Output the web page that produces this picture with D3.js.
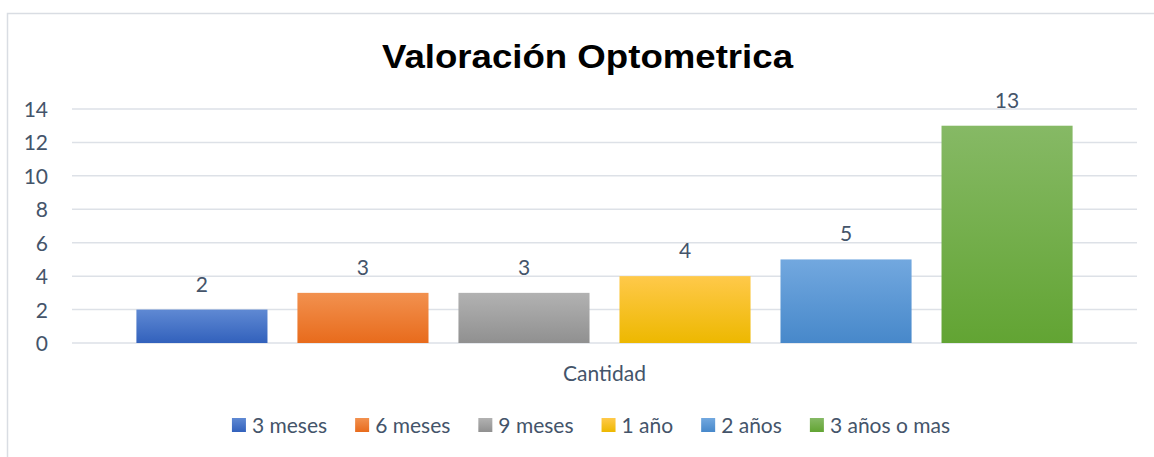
<!DOCTYPE html>
<html>
<head>
    <meta charset="utf-8">
    <title>Valoración Optometrica</title>
    <script src="https://d3js.org/d3.v7.min.js"></script>
    <style>
        body { margin: 0; background: #fff; }
        text { font-family: Lato, "Open Sans", sans-serif; fill: #44546A; }
    </style>
</head>
<body>
    <svg width="1154" height="457"></svg>
    <script>
        // Données
        const categories = ["3 meses", "6 meses", "9 meses", "1 año", "2 años", "3 años o mas"];
        const values = [2, 3, 3, 4, 5, 13];
        const yTicks = [0, 2, 4, 6, 8, 10, 12, 14];
        const colorsTop = ["#5F89D3", "#F2914F", "#B2B2B2", "#FFC94A", "#72A8DF", "#86B965"];
        const colorsBottom = ["#3261BC", "#E86B1C", "#909090", "#EDB800", "#4788CA", "#62A433"];

        const svg = d3.select("svg");
        const plotLeft = 72, plotRight = 1137, plotTop = 109, plotBottom = 343;

        // bordure du graphique
        svg.append("rect")
            .attr("x", 7.5).attr("y", 13.5)
            .attr("width", 1200).attr("height", 500)
            .attr("fill", "none")
            .attr("stroke", "#D9DDE3")
            .attr("stroke-width", 1.5);

        // dégradés
        const defs = svg.append("defs");
        categories.forEach((c, i) => {
            const g = defs.append("linearGradient")
                .attr("id", "grad" + i)
                .attr("x1", 0).attr("y1", 0).attr("x2", 0).attr("y2", 1);
            g.append("stop").attr("offset", "0%").attr("stop-color", colorsTop[i]);
            g.append("stop").attr("offset", "100%").attr("stop-color", colorsBottom[i]);
        });

        const x = d3.scaleBand()
            .domain(categories)
            .range([plotLeft, plotRight])
            .paddingInner(0.186)
            .paddingOuter(0.4);

        const y = d3.scaleLinear()
            .domain([0, 14])
            .range([plotBottom, plotTop]);

        // Titre
        svg.append("text")
            .attr("x", 587.5)
            .attr("y", 68)
            .attr("text-anchor", "middle")
            .attr("textLength", 411)
            .attr("lengthAdjust", "spacingAndGlyphs")
            .style("font-family", "'Liberation Sans', Arial, sans-serif")
            .style("font-weight", "bold")
            .style("font-size", "33px")
            .style("fill", "#000")
            .text("Valoración Optometrica");

        // Grille
        svg.append("g")
            .selectAll("line")
            .data(yTicks)
            .enter()
            .append("line")
            .attr("x1", plotLeft).attr("x2", plotRight)
            .attr("y1", d => y(d)).attr("y2", d => y(d))
            .attr("stroke", "#DDE1E7")
            .attr("stroke-width", 1.5);

        // Axe Y
        const yAxis = svg.append("g")
            .attr("transform", `translate(${plotLeft - 24},0)`)
            .call(d3.axisLeft(y).tickValues(yTicks).tickSize(0).tickPadding(0));
        yAxis.select(".domain").remove();
        yAxis.selectAll("text")
            .style("font-family", "Lato, sans-serif")
            .style("font-size", "21px")
            .style("fill", "#44546A")
            .attr("dy", "0.36em");

        // Barres
        svg.selectAll("rect.bar")
            .data(values)
            .enter()
            .append("rect")
            .attr("class", "bar")
            .attr("x", (d, i) => x(categories[i]))
            .attr("y", d => y(d))
            .attr("width", x.bandwidth())
            .attr("height", d => y(0) - y(d))
            .attr("fill", (d, i) => `url(#grad${i})`);

        // Étiquettes
        svg.selectAll("text.label")
            .data(values)
            .enter()
            .append("text")
            .attr("class", "label")
            .attr("x", (d, i) => x(categories[i]) + x.bandwidth() / 2)
            .attr("y", d => y(d) - 18)
            .attr("text-anchor", "middle")
            .style("font-size", "21px")
            .text(d => d);

        // Titre de catégorie
        svg.append("text")
            .attr("x", (plotLeft + plotRight) / 2)
            .attr("y", 381)
            .attr("text-anchor", "middle")
            .style("font-size", "21px")
            .text("Cantidad");

        // Légende
        const legend = svg.append("g");
        const items = legend.selectAll("g")
            .data(categories)
            .enter()
            .append("g");
        items.append("rect")
            .attr("width", 14).attr("height", 14)
            .attr("y", 418)
            .attr("fill", (d, i) => `url(#grad${i})`);
        items.append("text")
            .attr("x", 20)
            .attr("y", 433)
            .style("font-size", "21px")
            .text(d => d);
        let pos = 0;
        items.each(function() {
            const w = d3.select(this).select("text").node().getComputedTextLength();
            d3.select(this).attr("transform", `translate(${pos},0)`);
            pos += 20 + w + 28;
        });
        const total = pos - 28;
        legend.attr("transform", `translate(${591 - total / 2},0)`);
    </script>
</body>
</html>
